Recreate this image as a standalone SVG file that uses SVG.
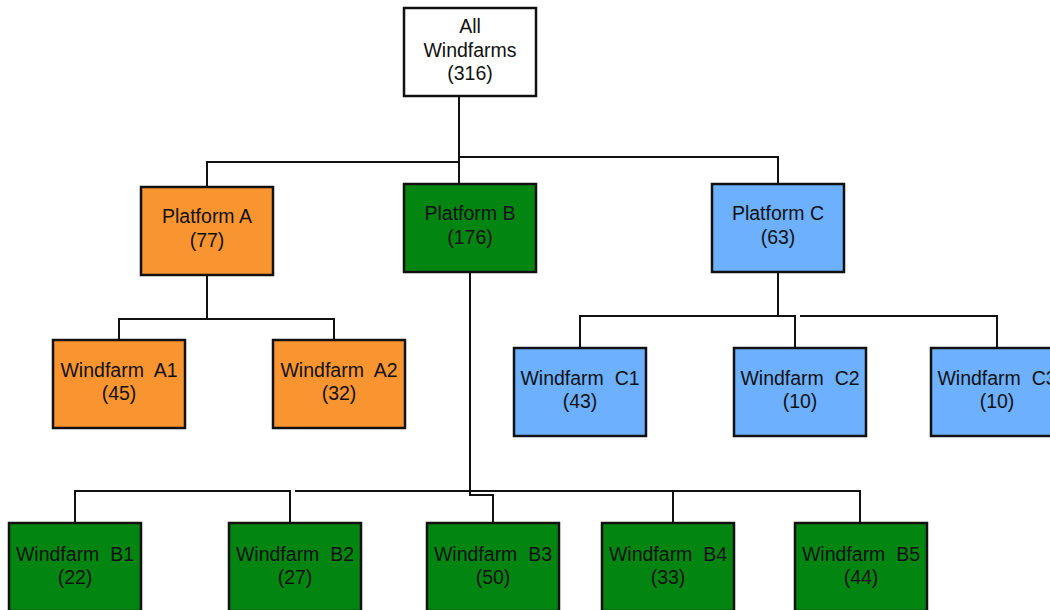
<svg xmlns="http://www.w3.org/2000/svg" width="1050" height="610" viewBox="0 0 1050 610">
<style>
.box{stroke:#111;stroke-width:2.5}
.w{fill:#ffffff}
.o{fill:#F99530}
.g{fill:#038511}
.b{fill:#6CB0FE}
text{font-family:"Liberation Sans",Arial,sans-serif;font-size:19.5px;fill:#111;text-anchor:middle}
.c{fill:none;stroke:#111;stroke-width:2}
</style>
<rect width="1050" height="610" fill="#fff"/>
<g id="connectors">
<path class="c" d="M459,96 V184"/>
<path class="c" d="M459,162 H207 V187"/>
<path class="c" d="M459,157 H778 V184"/>
<path class="c" d="M207,275 V319 M119,340 V319 H334 V340"/>
<path class="c" d="M778,272 V316 M580,348 V316 H795 V348 M800,316 H997 V348"/>
<path class="c" d="M470,272 V495 H493 V523"/>
<path class="c" d="M75,523 V491 H290 V523 M295,491 H860 V523 M673,491 V523"/>
</g>
<g id="all"><rect class="box w" x="404" y="8" width="132" height="88"/><text x="470" y="33">All</text><text x="470" y="57">Windfarms</text><text x="470" y="80">(316)</text></g>
<g id="platformA"><rect class="box o" x="141" y="187" width="132" height="88"/><text x="207" y="223">Platform A</text><text x="207" y="247">(77)</text></g>
<g id="platformB"><rect class="box g" x="404" y="184" width="132" height="88"/><text x="470" y="220">Platform B</text><text x="470" y="244">(176)</text></g>
<g id="platformC"><rect class="box b" x="712" y="184" width="132" height="88"/><text x="778" y="220">Platform C</text><text x="778" y="244">(63)</text></g>
<g id="wfA1"><rect class="box o" x="53" y="340" width="132" height="88"/><text x="119" y="377" xml:space="preserve">Windfarm  A1</text><text x="119" y="400">(45)</text></g>
<g id="wfA2"><rect class="box o" x="273" y="340" width="132" height="88"/><text x="339" y="377" xml:space="preserve">Windfarm  A2</text><text x="339" y="400">(32)</text></g>
<g id="wfC1"><rect class="box b" x="514" y="348" width="132" height="88"/><text x="580" y="385" xml:space="preserve">Windfarm  C1</text><text x="580" y="408">(43)</text></g>
<g id="wfC2"><rect class="box b" x="734" y="348" width="132" height="88"/><text x="800" y="385" xml:space="preserve">Windfarm  C2</text><text x="800" y="408">(10)</text></g>
<g id="wfC3"><rect class="box b" x="931" y="348" width="132" height="88"/><text x="997" y="385" xml:space="preserve">Windfarm  C3</text><text x="997" y="408">(10)</text></g>
<g id="wfB1"><rect class="box g" x="9" y="523" width="132" height="88"/><text x="75" y="561" xml:space="preserve">Windfarm  B1</text><text x="75" y="584">(22)</text></g>
<g id="wfB2"><rect class="box g" x="229" y="523" width="132" height="88"/><text x="295" y="561" xml:space="preserve">Windfarm  B2</text><text x="295" y="584">(27)</text></g>
<g id="wfB3"><rect class="box g" x="427" y="523" width="132" height="88"/><text x="493" y="561" xml:space="preserve">Windfarm  B3</text><text x="493" y="584">(50)</text></g>
<g id="wfB4"><rect class="box g" x="602" y="523" width="132" height="88"/><text x="668" y="561" xml:space="preserve">Windfarm  B4</text><text x="668" y="584">(33)</text></g>
<g id="wfB5"><rect class="box g" x="795" y="523" width="132" height="88"/><text x="861" y="561" xml:space="preserve">Windfarm  B5</text><text x="861" y="584">(44)</text></g>
</svg>
